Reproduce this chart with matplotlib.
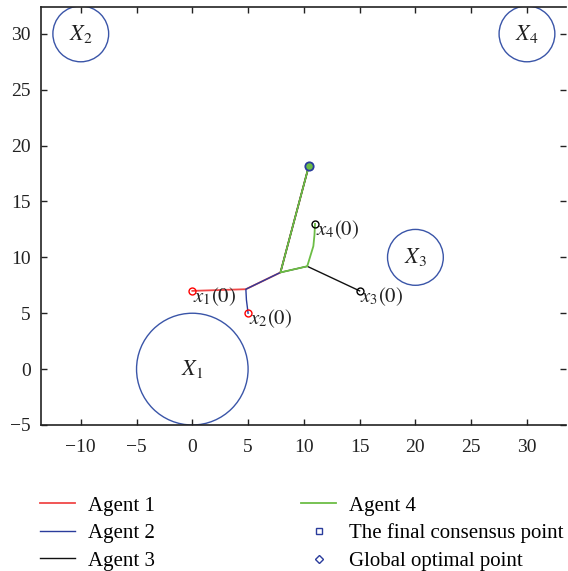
import matplotlib
matplotlib.use("Agg")
import matplotlib.pyplot as plt
from matplotlib.patches import Circle

plt.rcParams['font.family'] = ['Liberation Serif', 'DejaVu Serif']
plt.rcParams['mathtext.fontset'] = 'stix'

# Agent trajectories
agent1_x = [0.0, 4.8, 7.9, 10.45]
agent1_y = [7.0, 7.15, 8.65, 18.2]
agent2_x = [5.0, 4.85, 4.8, 7.9, 10.45]
agent2_y = [5.0, 6.2, 7.15, 8.65, 18.2]
agent3_x = [15.0, 10.3, 7.9, 10.45]
agent3_y = [7.0, 9.2, 8.65, 18.2]
agent4_x = [11.0, 10.95, 10.85, 10.3, 7.9, 10.45]
agent4_y = [13.0, 12.0, 11.0, 9.2, 8.65, 18.2]

final_point = (10.45, 18.2)
optimal_point = (10.45, 18.2)

# Constraint sets (circles)
set_labels = ['$X_1$', '$X_2$', '$X_3$', '$X_4$']
set_cx = [0, -10, 20, 30]
set_cy = [0, 30, 10, 30]
set_r = [5, 2.5, 2.5, 2.5]

start_labels = ['$x_1(0)$', '$x_2(0)$', '$x_3(0)$', '$x_4(0)$']
start_x = [0.0, 5.0, 15.0, 11.0]
start_y = [7.0, 5.0, 7.0, 13.0]
start_colors = ['red', 'red', 'black', 'black']

xticks = [-10, -5, 0, 5, 10, 15, 20, 25, 30]
yticks = [-5, 0, 5, 10, 15, 20, 25, 30]

c_red = '#f04848'
c_blue = '#2a3c9c'
c_black = '#111111'
c_green = '#6cbd45'
c_circle = '#3a55a8'

fig = plt.figure(figsize=(5.68, 5.71), dpi=100)
ax = fig.add_axes([0.0715, 0.2557, 0.925, 0.732])

ax.plot(agent1_x, agent1_y, color=c_red, lw=1.3, label='Agent 1')
ax.plot(agent2_x, agent2_y, color=c_blue, lw=1.0, label='Agent 2')
ax.plot(agent3_x, agent3_y, color=c_black, lw=1.0, label='Agent 3')
ax.plot(agent4_x, agent4_y, color=c_green, lw=1.3, label='Agent 4')

ax.plot([final_point[0]], [final_point[1]], linestyle='none', marker='s',
        markersize=4, markerfacecolor='none', markeredgecolor=c_blue,
        markeredgewidth=1.0, label='The final consensus point')
ax.plot([optimal_point[0]], [optimal_point[1]], linestyle='none', marker='D',
        markersize=4, markerfacecolor='none', markeredgecolor=c_blue,
        markeredgewidth=1.0, label='Global optimal point')
ax.plot([final_point[0]], [final_point[1]], linestyle='none', marker='o',
        markersize=6, markerfacecolor=c_green, markeredgecolor=c_blue,
        markeredgewidth=1.3)

for cx, cy, r, lab in zip(set_cx, set_cy, set_r, set_labels):
    ax.add_patch(Circle((cx, cy), r, fill=False, edgecolor=c_circle, lw=1.0))
    ax.text(cx, cy, lab, ha='center', va='center', fontsize=16, color='#222222')

for sx, sy, lab, col in zip(start_x, start_y, start_labels, start_colors):
    ax.plot([sx], [sy], marker='o', markersize=5, markerfacecolor='none',
            markeredgecolor=col, markeredgewidth=1.0, linestyle='none')
    ax.annotate(lab, (sx, sy), xytext=(0.5, -4), textcoords='offset points',
                ha='left', va='center', fontsize=15, color='#222222')

ax.set_xlim(-13.6, 33.5)
ax.set_ylim(-5, 32.4)
ax.set_xticks(xticks)
ax.set_yticks(yticks)
ax.set_xticklabels(['\u2212' + str(-t) if t < 0 else str(t) for t in xticks])
ax.set_yticklabels(['\u2212' + str(-t) if t < 0 else str(t) for t in yticks])
ax.tick_params(direction='in', top=True, right=True, labelsize=14,
               length=4, width=1, colors='#222222')
ax.tick_params(axis='x', pad=10)
ax.tick_params(axis='y', pad=7)
ax.spines['right'].set_visible(False)
for s in ['left', 'bottom', 'top']:
    ax.spines[s].set_linewidth(1.2)
    ax.spines[s].set_color('#222222')

handles, labels = ax.get_legend_handles_labels()
fig.legend(handles, labels, loc='upper left', bbox_to_anchor=(0.055, 0.146),
           ncol=2, frameon=False, fontsize=15, handlelength=1.7,
           columnspacing=7.0, labelspacing=0.38, handletextpad=0.63,
           borderaxespad=0)

fig.savefig('out.png', dpi=100)
